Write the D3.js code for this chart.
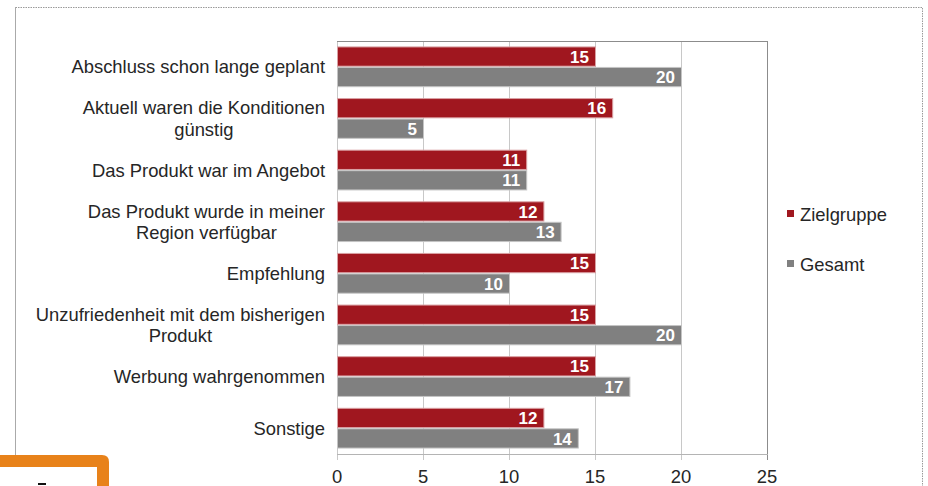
<!doctype html>
<html lang="de">
<head>
<meta charset="UTF-8">
<title>Chart</title>
<script src="https://d3js.org/d3.v7.min.js"></script>
<style>
  body { margin: 0; background: #fff; }
  text { font-family: "Liberation Sans", Arial, sans-serif; }
</style>
</head>
<body>
<div id="chart-area"></div>
<script>
const categories = [
    ['Abschluss schon lange geplant'],
    ['Aktuell waren die Konditionen', 'günstig'],
    ['Das Produkt war im Angebot'],
    ['Das Produkt wurde in meiner', 'Region verfügbar'],
    ['Empfehlung'],
    ['Unzufriedenheit mit dem bisherigen', 'Produkt'],
    ['Werbung wahrgenommen'],
    ['Sonstige']
];
const zielgruppe = [15, 16, 11, 12, 15, 15, 15, 12];
const gesamt     = [20, 5, 11, 13, 10, 20, 17, 14];
const seriesNames = ['Zielgruppe', 'Gesamt'];
const xTicks = [0, 5, 10, 15, 20, 25];

const W = 928, H = 486;
const plot = { left: 337, right: 767, top: 41, bottom: 454 };
const colors = ['#A0171F', '#808080'];
const strokes = ['#d9a0a3', '#c4c4c4'];
const fs = 18.4;

const svg = d3.select('#chart-area')
    .append('svg')
    .attr('width', W)
    .attr('height', H);

// outer chart frame (dotted)
svg.append('path')
    .attr('d', `M15.5,455 L15.5,7.5 L922.5,7.5 L922.5,${H}`)
    .attr('fill', 'none')
    .attr('stroke', '#9a9a9a')
    .attr('stroke-dasharray', '1.5,1');
svg.append('line')
    .attr('x1', 15.5).attr('x2', 15.5).attr('y1', 7).attr('y2', 455)
    .attr('stroke', '#aaa');

const x = d3.scaleLinear()
    .domain([0, 25])
    .range([plot.left, plot.right]);

const y = d3.scaleBand()
    .domain(d3.range(categories.length))
    .range([plot.top, plot.bottom])
    .paddingInner(0.23)
    .paddingOuter(0.115);

const ySub = d3.scaleBand()
    .domain([0, 1])
    .range([0, y.bandwidth()])
    .paddingInner(0.06);

// gridlines + tick marks
svg.append('g')
    .selectAll('line')
    .data(xTicks)
    .join('line')
    .attr('x1', d => Math.round(x(d)) + 0.5)
    .attr('x2', d => Math.round(x(d)) + 0.5)
    .attr('y1', plot.top)
    .attr('y2', plot.bottom + 6)
    .attr('stroke', d => d === 25 ? '#8c8c8c' : '#c8c8c8');

// plot border
svg.append('line')
    .attr('x1', plot.left).attr('x2', plot.right + 1)
    .attr('y1', plot.top + 0.5).attr('y2', plot.top + 0.5)
    .attr('stroke', '#8c8c8c');
svg.append('line')
    .attr('x1', plot.left).attr('x2', plot.right + 1)
    .attr('y1', plot.bottom + 0.5).attr('y2', plot.bottom + 0.5)
    .attr('stroke', '#b4b4b4');

// x tick labels
svg.append('g')
    .selectAll('text')
    .data(xTicks)
    .join('text')
    .attr('x', d => x(d))
    .attr('y', 476)
    .attr('dy', '0.36em')
    .attr('text-anchor', 'middle')
    .attr('font-size', fs)
    .attr('fill', '#262626')
    .text(d => d);

// bars
const series = [zielgruppe, gesamt];
series.forEach((vals, s) => {
    const g = svg.append('g');
    g.selectAll('rect')
        .data(vals)
        .join('rect')
        .attr('x', plot.left + 0.5)
        .attr('y', (d, i) => y(i) + ySub(s))
        .attr('width', d => x(d) - plot.left)
        .attr('height', ySub.bandwidth())
        .attr('fill', colors[s])
        .attr('stroke', strokes[s])
        .attr('stroke-width', 1);
    g.selectAll('text')
        .data(vals)
        .join('text')
        .attr('x', d => x(d) - 6)
        .attr('y', (d, i) => y(i) + ySub(s) + ySub.bandwidth() / 2)
        .attr('dy', '0.36em')
        .attr('text-anchor', 'end')
        .attr('font-size', 17)
        .attr('font-weight', 'bold')
        .attr('fill', '#fff')
        .text(d => d);
});

// category labels
const labelRight = 325;
const cat = svg.append('g')
    .selectAll('g')
    .data(categories)
    .join('g');
cat.each(function(lines, i) {
    const g = d3.select(this);
    const cy = y(i) + y.bandwidth() / 2;
    const lh = 21.5;
    const tmp = g.append('text')
        .attr('font-size', fs)
        .attr('text-anchor', 'middle');
    // measure widest line to center wrapped lines on each other
    const widths = lines.map(l => {
        tmp.text(l);
        return tmp.node().getComputedTextLength();
    });
    tmp.remove();
    const cx = labelRight - d3.max(widths) / 2;
    lines.forEach((l, k) => {
        g.append('text')
            .attr('x', cx)
            .attr('y', cy + (k - (lines.length - 1) / 2) * lh)
            .attr('dy', '0.36em')
            .attr('text-anchor', 'middle')
            .attr('font-size', fs)
            .attr('fill', '#262626')
            .text(l);
    });
});

// legend
const legend = svg.append('g')
    .selectAll('g')
    .data(seriesNames)
    .join('g')
    .attr('transform', (d, i) => `translate(787,${210 + i * 50})`);
legend.append('rect')
    .attr('width', 7).attr('height', 7)
    .attr('fill', (d, i) => colors[i]);
legend.append('text')
    .attr('x', 13)
    .attr('y', 4)
    .attr('dy', '0.36em')
    .attr('font-size', fs)
    .attr('fill', '#262626')
    .text(d => d);

// orange frame in the corner
svg.append('path')
    .attr('d', 'M-10,455 L102,455 Q109,455 109,462 L109,490 L97,490 L97,467 L-10,467 Z')
    .attr('fill', '#E8821A');
svg.append('rect')
    .attr('x', 38).attr('y', 483).attr('width', 8).attr('height', 2)
    .attr('fill', '#111');
</script>
</body>
</html>
